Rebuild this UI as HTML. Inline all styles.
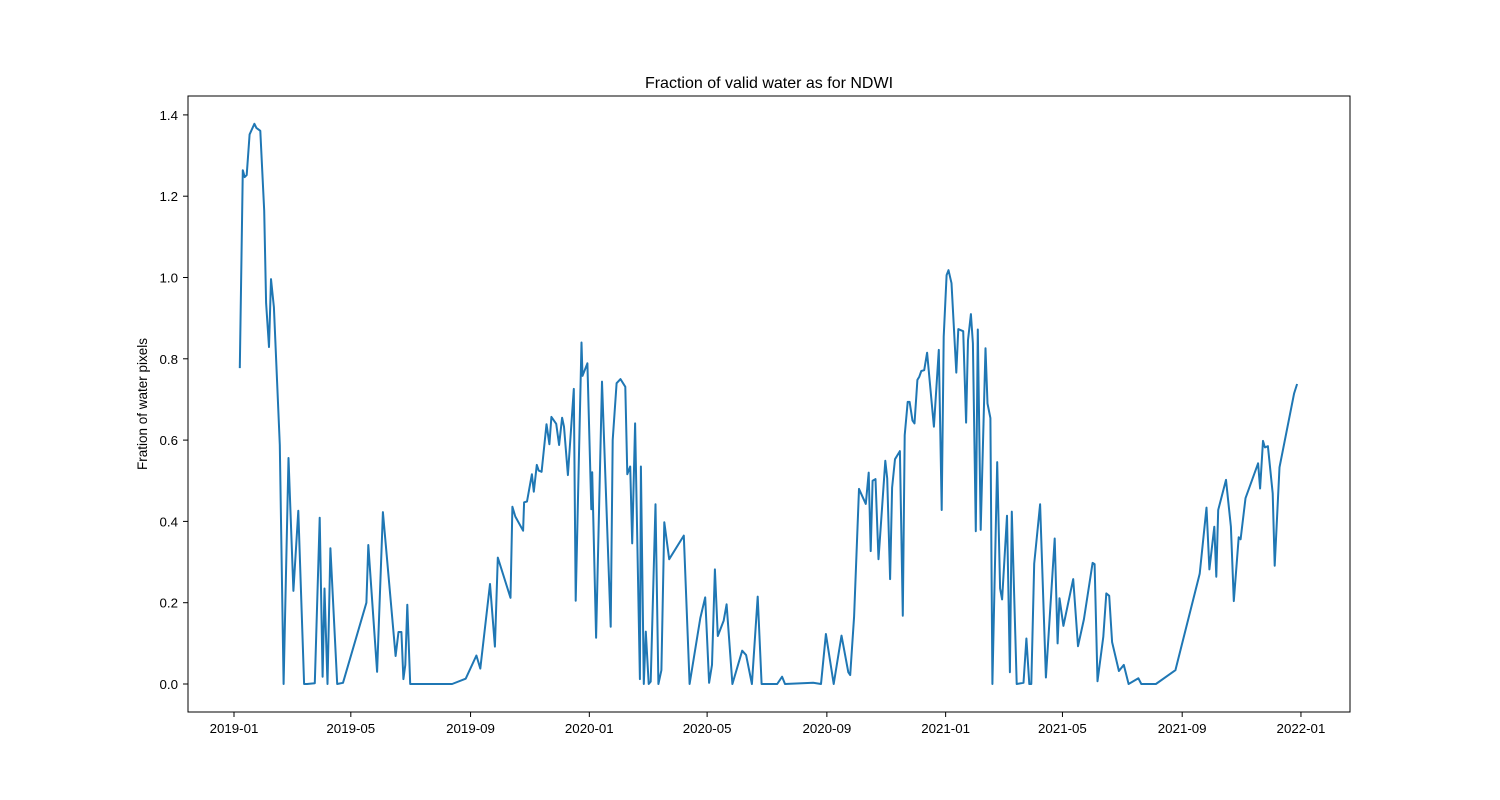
<!DOCTYPE html>
<html><head><meta charset="utf-8"><style>
html,body{margin:0;padding:0;background:#fff;}
svg{display:block;font-family:"Liberation Sans","DejaVu Sans",sans-serif;}
</style></head><body>
<svg id="chart" width="1500" height="800" viewBox="0 0 1500 800">
<rect x="0" y="0" width="1500" height="800" fill="#fff"/>
<text x="769" y="88" text-anchor="middle" font-size="16">Fraction of valid water as for NDWI</text>
<text transform="translate(147,404) rotate(-90)" text-anchor="middle" font-size="13.5">Fration of water pixels</text>
<g id="xticks"></g>
<g id="yticks"></g>
<path id="line" fill="none" stroke="#1f77b4" stroke-width="2" stroke-linejoin="round"/>
<rect x="188" y="96" width="1162" height="616" fill="none" stroke="#000" stroke-width="1"/>
</svg>
<script>
const days = [6,9,11,13,16,21,23,27,31,33,36,38,41,47,51,56,61,66,72,75,83,88,91,93,96,99,106,112,136,138,147,153,166,169,172,174,176,178,181,224,238,249,253,263,268,271,284,286,289,297,298,301,306,308,311,313,316,321,324,326,331,334,337,339,343,349,351,357,358,363,367,368,372,378,387,389,393,397,402,404,407,409,412,417,418,421,423,426,428,433,436,439,442,447,462,468,479,484,488,491,494,497,503,506,512,522,526,532,538,542,558,563,566,595,603,608,616,624,631,633,637,642,649,652,654,656,659,662,669,671,674,676,679,684,687,689,692,694,697,699,702,704,706,709,712,719,724,727,729,732,734,737,742,744,746,749,752,754,757,759,762,764,767,772,774,777,779,784,787,789,794,797,799,804,811,814,817,819,822,828,834,843,846,848,852,862,867,873,882,884,887,893,896,899,902,909,914,919,929,932,947,967,992,999,1002,1007,1009,1011,1019,1024,1027,1032,1034,1039,1052,1054,1057,1059,1062,1067,1069,1074,1089,1092];
const values = [0.777,1.264,1.247,1.252,1.352,1.378,1.368,1.361,1.164,0.937,0.829,0.996,0.927,0.588,0,0.556,0.229,0.426,0,0,0.002,0.409,0.018,0.235,0,0.334,0,0.003,0.2,0.342,0.03,0.423,0.069,0.128,0.128,0.012,0.047,0.195,0,0,0.013,0.07,0.038,0.246,0.092,0.311,0.212,0.436,0.412,0.377,0.447,0.449,0.516,0.473,0.539,0.525,0.522,0.639,0.59,0.657,0.64,0.588,0.655,0.633,0.514,0.726,0.205,0.84,0.758,0.789,0.43,0.521,0.114,0.744,0.141,0.6,0.74,0.75,0.731,0.516,0.535,0.346,0.641,0.012,0.535,0,0.129,0,0.006,0.442,0,0.034,0.398,0.307,0.365,0,0.162,0.213,0.003,0.047,0.282,0.118,0.156,0.196,0,0.082,0.071,0,0.215,0,0,0.018,0,0.003,0,0.123,0,0.119,0.029,0.022,0.166,0.48,0.443,0.52,0.327,0.5,0.504,0.307,0.549,0.506,0.258,0.483,0.553,0.573,0.168,0.612,0.694,0.694,0.648,0.641,0.748,0.756,0.77,0.772,0.815,0.633,0.822,0.428,0.854,1.006,1.018,0.986,0.766,0.873,0.871,0.868,0.643,0.846,0.91,0.838,0.376,0.872,0.379,0.826,0.69,0.654,0,0.546,0.235,0.208,0.414,0.029,0.424,0,0.003,0.112,0,0,0.296,0.442,0.016,0.358,0.1,0.211,0.143,0.258,0.093,0.159,0.298,0.295,0.007,0.116,0.223,0.217,0.103,0.032,0.047,0,0.014,0,0,0.034,0.271,0.434,0.282,0.387,0.264,0.428,0.502,0.387,0.204,0.361,0.356,0.457,0.543,0.481,0.598,0.582,0.585,0.469,0.291,0.533,0.715,0.738];
const xTickDays = [0,120,243,365,486,609,731,851,974,1096];
const xTickLabels = ["2019-01","2019-05","2019-09","2020-01","2020-05","2020-09","2021-01","2021-05","2021-09","2022-01"];
const yTickValues = [0,0.2,0.4,0.6,0.8,1.0,1.2,1.4];
const yTickLabels = ["0.0","0.2","0.4","0.6","0.8","1.0","1.2","1.4"];

const NS = "http://www.w3.org/2000/svg";
function xScale(d){ return 234 + d * 0.9735; }
function yScale(v){ return 684 - v * 406.5; }

const xg = document.getElementById('xticks');
xTickDays.forEach((d,i)=>{
  const x = xScale(d);
  const t = document.createElementNS(NS,'line');
  t.setAttribute('x1',x);t.setAttribute('x2',x);t.setAttribute('y1',712);t.setAttribute('y2',717);
  t.setAttribute('stroke','#000');
  
  
  xg.appendChild(t);
  const l = document.createElementNS(NS,'text');
  l.setAttribute('x',x);l.setAttribute('y',733);l.setAttribute('text-anchor','middle');l.setAttribute('font-size','13.3');
  l.textContent = xTickLabels[i];
  
  
  xg.appendChild(l);
});
const yg = document.getElementById('yticks');
yTickValues.forEach((v,i)=>{
  const y = yScale(v);
  const t = document.createElementNS(NS,'line');
  t.setAttribute('x1',183);t.setAttribute('x2',188);t.setAttribute('y1',y);t.setAttribute('y2',y);
  t.setAttribute('stroke','#000');
  
  
  yg.appendChild(t);
  const l = document.createElementNS(NS,'text');
  l.setAttribute('x',178);l.setAttribute('y',y+5);l.setAttribute('text-anchor','end');l.setAttribute('font-size','13.3');
  l.textContent = yTickLabels[i];
  
  
  yg.appendChild(l);
});
let dstr = '';
days.forEach((d,i)=>{ dstr += (i?'L':'M') + xScale(d).toFixed(1) + ',' + yScale(values[i]).toFixed(1); });
document.getElementById('line').setAttribute('d', dstr);
</script>
</body></html>
